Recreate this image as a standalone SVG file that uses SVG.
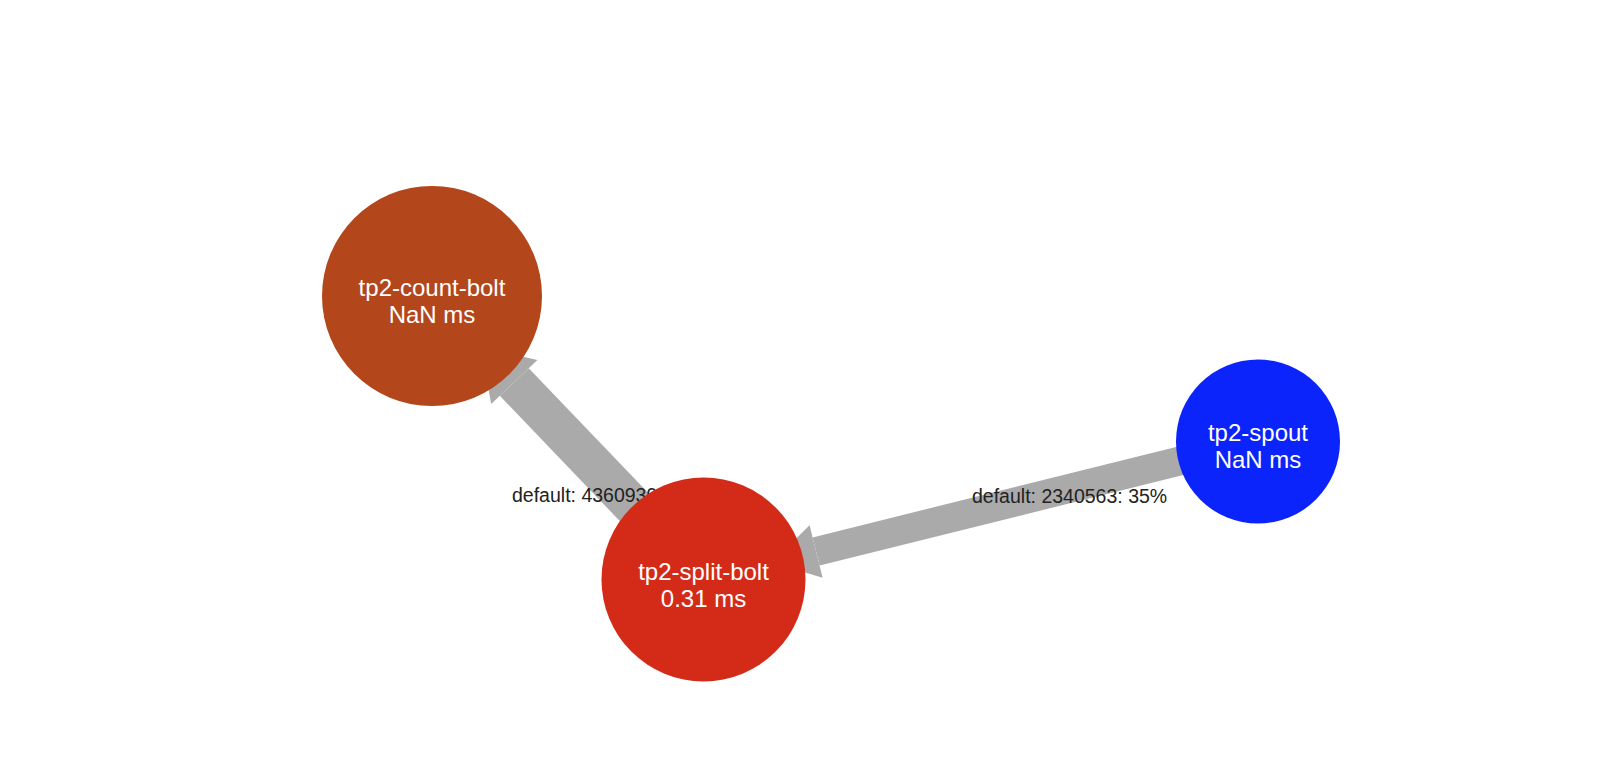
<svg xmlns="http://www.w3.org/2000/svg" width="1610" height="762" viewBox="0 0 1610 762">
<style>
.edge{stroke:#aaaaaa;fill:none;stroke-linecap:butt}
.head{fill:#aaaaaa}
.elabel{font-family:"Liberation Sans",Arial,sans-serif;font-size:19.5px;fill:#222222}
.nlabel{font-family:"Liberation Sans",Arial,sans-serif;font-size:24px;fill:#ffffff;text-anchor:middle}
</style>
<rect width="1610" height="762" fill="#ffffff"/>
<g id="connectors">
<line class="edge" x1="703.5" y1="579.5" x2="514.3" y2="382.0" stroke-width="40"/>
<polygon class="head" points="537.4,359.9 491.2,404.1 480.8,347.0"/>
<line class="edge" x1="1258" y1="441.5" x2="816.1" y2="551.5" stroke-width="29"/>
<polygon class="head" points="822.6,577.7 809.6,525.3 771.7,562.5"/>
<text class="elabel" x="512" y="502">default: 4360939: 65%</text>
<text class="elabel" x="972" y="503">default: 2340563: 35%</text>
</g>
<g id="tp2-count-bolt">
<circle cx="432" cy="296" r="110" fill="#b4461b"/>
<text class="nlabel" x="432" y="296">tp2-count-bolt</text>
<text class="nlabel" x="432" y="323">NaN ms</text>
</g>
<g id="tp2-split-bolt">
<circle cx="703.5" cy="579.5" r="102" fill="#d42b19"/>
<text class="nlabel" x="703.5" y="580">tp2-split-bolt</text>
<text class="nlabel" x="703.5" y="607">0.31 ms</text>
</g>
<g id="tp2-spout">
<circle cx="1258" cy="441.5" r="82" fill="#0b24fb"/>
<text class="nlabel" x="1258" y="441">tp2-spout</text>
<text class="nlabel" x="1258" y="468">NaN ms</text>
</g>
</svg>
